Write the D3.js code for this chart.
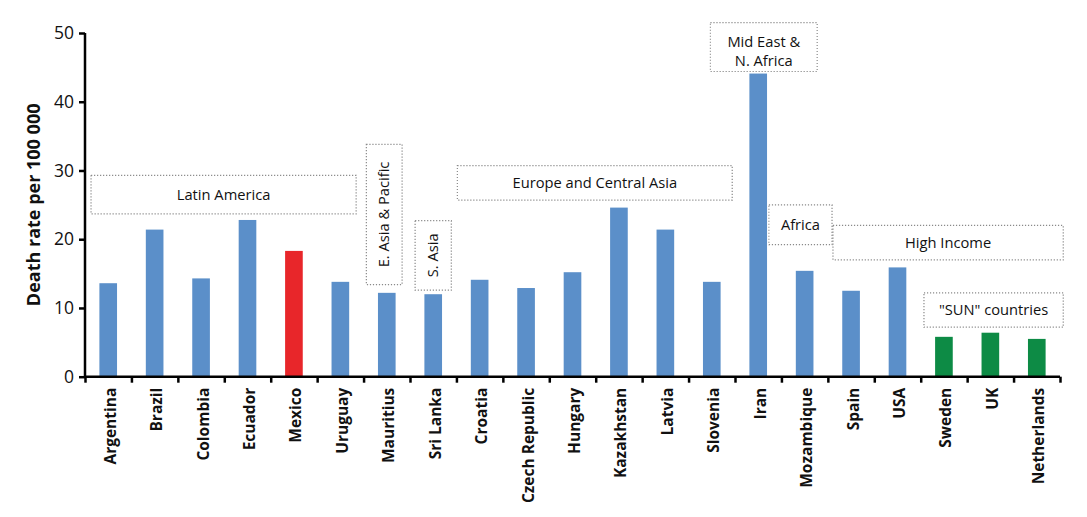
<!DOCTYPE html>
<html><head><meta charset="utf-8">
<script src="https://cdn.jsdelivr.net/npm/d3@7"></script>
<style>body{margin:0;background:#fff;} svg{display:block;}</style>
</head><body>
<svg id="chart" width="1087" height="517"></svg>
<script>
const countries = ["Argentina","Brazil","Colombia","Ecuador","Mexico","Uruguay","Mauritius","Sri Lanka","Croatia","Czech Republic","Hungary","Kazakhstan","Latvia","Slovenia","Iran","Mozambique","Spain","USA","Sweden","UK","Netherlands"];
const deathRates = [13.6,21.4,14.3,22.8,18.3,13.8,12.2,12.0,14.1,12.9,15.2,24.6,21.4,13.8,44.1,15.4,12.5,15.9,5.8,6.4,5.5];
const barGroup = ["other","other","other","other","mexico","other","other","other","other","other","other","other","other","other","other","other","other","other","sun","sun","sun"];
const yTicks = [0,10,20,30,40,50];
const yTitle = "Death rate per 100 000";
// region annotations: label lines, span in category units, value range
const regionLabels = [["Latin America"],["E. Asia & Pacific"],["S. Asia"],["Europe and Central Asia"],["Mid East &","N. Africa"],["Africa"],["High Income"],["\"SUN\" countries"]];
const regionX0 = [0.13,6.06,7.11,8.02,13.47,14.73,16.11,18.07];
const regionX1 = [5.84,6.83,7.89,13.94,15.77,16.09,21.07,21.07];
const regionY0 = [23.7,13.4,12.6,25.7,44.4,19.2,17.0,7.2];
const regionY1 = [29.3,33.8,22.7,30.7,51.5,25.0,22.0,12.2];
const regionVertical = [false,true,true,false,false,false,false,false];

const colors = {other:"#5b8fc9", mexico:"#e8262a", sun:"#0d8b45"};
const svg = d3.select("#chart");
const mLeft=85, mRight=1060, mTop=33, mBottom=376.7;
const x = d3.scaleBand().domain(countries).range([mLeft,mRight]).paddingInner(0.62).paddingOuter(0.31);
const xb = d3.scaleLinear().domain([0,countries.length]).range([mLeft,mRight]);
const y = d3.scaleLinear().domain([0,50]).range([mBottom,mTop]);
const font = "'Open Sans', 'DejaVu Sans', sans-serif";
const annSize = 14.7;

// annotation boxes
const ann = svg.append("g");
regionLabels.forEach((lines,i)=>{
  const x0=xb(regionX0[i]), x1=xb(regionX1[i]), y0=y(regionY1[i]), y1=y(regionY0[i]);
  ann.append("rect").attr("x",x0).attr("y",y0).attr("width",x1-x0).attr("height",y1-y0)
    .attr("fill","#fff").attr("stroke","#8a8a8a").attr("stroke-width",1.2).attr("stroke-dasharray","1.2,1.8");
  const cx=(x0+x1)/2, cy=(y0+y1)/2;
  if(regionVertical[i]){
    ann.append("text").attr("transform",`translate(${cx+5},${cy}) rotate(-90)`).attr("text-anchor","middle")
      .attr("font-family",font).attr("font-size",annSize).attr("fill","#111").text(lines[0]);
  } else {
    const lh=19, extra = lines.length>1 ? 4 : 0;
    lines.forEach((t,j)=>{
      ann.append("text").attr("x",cx).attr("y",cy+5+extra+(j-(lines.length-1)/2)*lh).attr("text-anchor","middle")
        .attr("font-family",font).attr("font-size",annSize).attr("fill","#111").text(t);
    });
  }
});

// bars
svg.append("g").selectAll("rect").data(countries).join("rect")
  .attr("x",d=>x(d)).attr("width",x.bandwidth())
  .attr("y",(d,i)=>y(deathRates[i])).attr("height",(d,i)=>y(0)-y(deathRates[i]))
  .attr("fill",(d,i)=>colors[barGroup[i]]);

// y axis
const yAxis = svg.append("g").attr("transform",`translate(${mLeft},0)`)
  .call(d3.axisLeft(y).tickValues(yTicks).tickSize(6).tickPadding(5));
yAxis.select(".domain").attr("stroke","#000").attr("stroke-width",2.5).attr("d",`M0,${mTop}V${mBottom}`);
yAxis.selectAll(".tick line").attr("stroke","#000").attr("stroke-width",2.5);
yAxis.selectAll(".tick text").attr("font-family",font).attr("font-size",17.5).attr("fill","#111");

// x axis
const xAxis = svg.append("g").attr("transform",`translate(0,${mBottom})`)
  .call(d3.axisBottom(xb).tickValues(d3.range(countries.length+1)).tickSize(6).tickFormat(""));
xAxis.select(".domain").attr("stroke","#000").attr("stroke-width",2.5).attr("d",`M${mLeft},0H${mRight}`);
xAxis.selectAll(".tick line").attr("stroke","#000").attr("stroke-width",2.5);

svg.append("g").selectAll("text").data(countries).join("text")
  .attr("transform",d=>`translate(${x(d)+x.bandwidth()/2+7.5},${mBottom+11}) rotate(-90)`)
  .attr("text-anchor","end").attr("font-family",font).attr("font-weight","bold").attr("font-size",15.5).attr("fill","#111")
  .text(d=>d);

// y title
svg.append("text").attr("transform",`translate(40,${(mTop+mBottom)/2}) rotate(-90)`).attr("text-anchor","middle")
  .attr("font-family",font).attr("font-weight","bold").attr("font-size",18).attr("fill","#111").text(yTitle);
</script>
</body></html>
